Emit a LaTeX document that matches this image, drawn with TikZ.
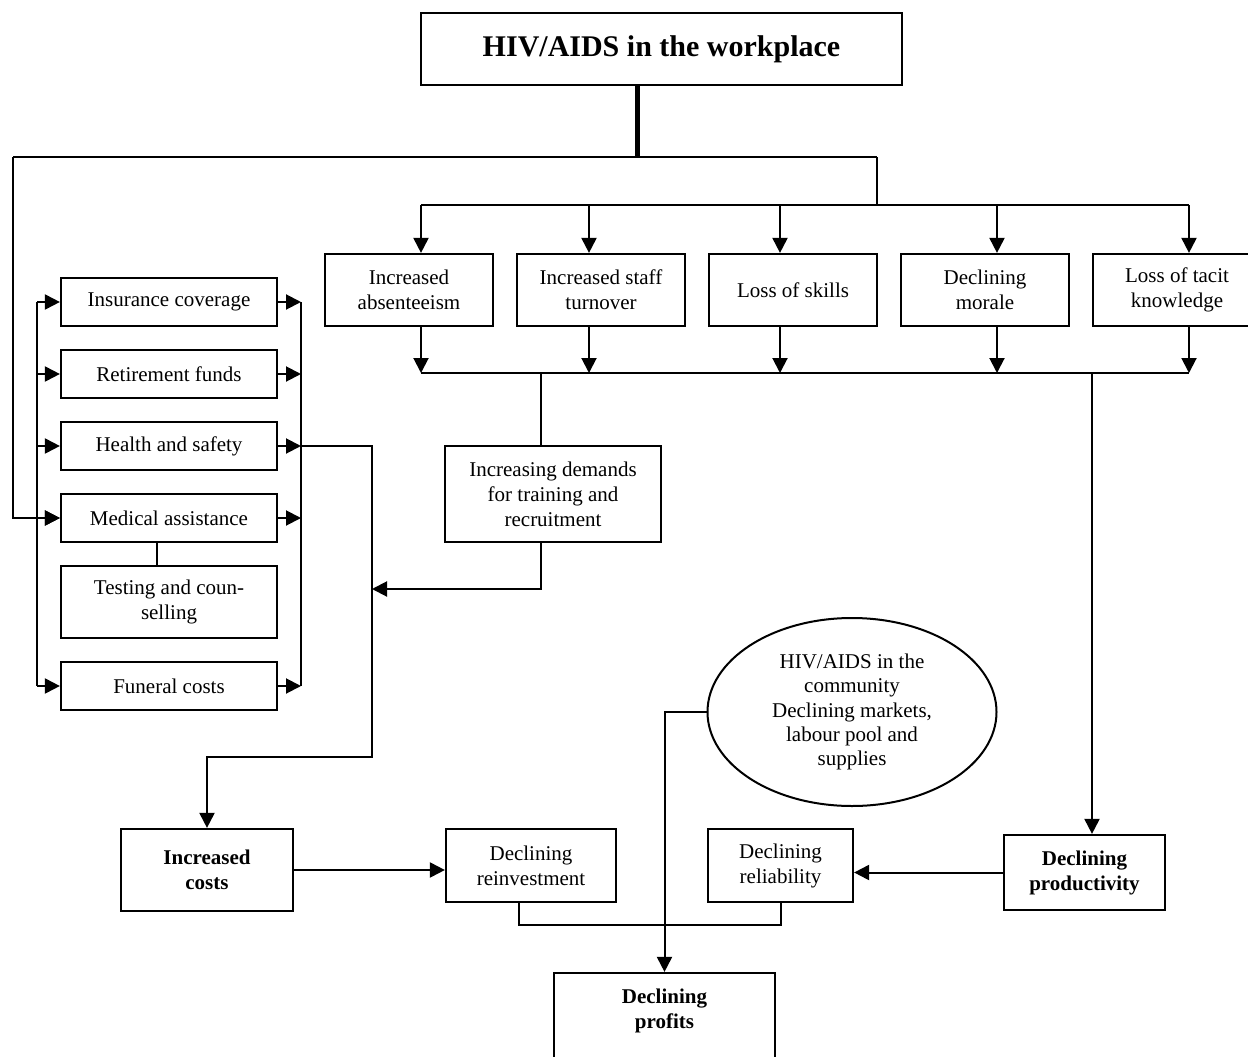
\documentclass[tikz,border=0pt]{standalone}
\usepackage{fontspec}
\setmainfont{Liberation Serif}
\usetikzlibrary{arrows.meta,shapes.geometric}
\begin{document}
\begin{tikzpicture}[x=1pt,y=-1pt,
  every node/.style={inner sep=0pt},
  bx/.style={draw, line width=2.2pt, rectangle, align=center, font=\fontsize{21}{25}\selectfont},
  bbx/.style={bx, font=\fontsize{21}{25}\selectfont\bfseries},
  ln/.style={line width=2pt},
  arr/.style={line width=2pt, -{Triangle[length=15pt,width=15pt]}},
  thickln/.style={line width=5pt}]
\useasboundingbox (0,0) rectangle (1248,1057);

% title
\node[draw, line width=2.2pt, minimum width=481pt, minimum height=72pt,
      font=\fontsize{30}{36}\selectfont\bfseries] (title) at (661.5,49) {HIV/AIDS in the workplace};

% top row
\node[bx, minimum width=168pt, minimum height=72pt] (abs) at (409,290) {Increased\\absenteeism};
\node[bx, minimum width=168pt, minimum height=72pt] (staff) at (601,290) {Increased staff\\turnover};
\node[bx, minimum width=168pt, minimum height=72pt] (skills) at (793,290) {Loss of skills};
\node[bx, minimum width=168pt, minimum height=72pt] (morale) at (985,290) {Declining\\morale};
\node[bx, minimum width=168pt, minimum height=72pt] (tacit) at (1177,290) {Loss of tacit\\knowledge};

% left column
\node[bx, minimum width=216pt, minimum height=48pt] (ins) at (169,302) {Insurance coverage};
\node[bx, minimum width=216pt, minimum height=48pt] (ret) at (169,374) {Retirement funds};
\node[bx, minimum width=216pt, minimum height=48pt] (hs) at (169,446) {Health and safety};
\node[bx, minimum width=216pt, minimum height=48pt] (med) at (169,518) {Medical assistance};
\node[bx, minimum width=216pt, minimum height=72pt] (test) at (169,602) {Testing and coun-\\selling};
\node[bx, minimum width=216pt, minimum height=48pt] (fun) at (169,686) {Funeral costs};

% middle
\node[bx, minimum width=216pt, minimum height=96pt] (dem) at (553,494) {Increasing demands\\for training and\\recruitment};
\node[draw, line width=2pt, ellipse, minimum width=289pt, minimum height=188pt, inner sep=0pt,
      align=center, font=\fontsize{21}{24.3}\selectfont] (ell) at (852,712)
      {HIV/AIDS in the\\community\\Declining markets,\\labour pool and\\supplies};

% bottom row
\node[bbx, minimum width=172pt, minimum height=82pt] (costs) at (207,870) {Increased\\costs};
\node[bx, minimum width=170pt, minimum height=73pt] (reinv) at (531,865.5) {Declining\\reinvestment};
\node[bx, minimum width=145pt, minimum height=73pt] (rel) at (780.5,865.5) {Declining\\reliability};
\node[bbx, minimum width=161pt, minimum height=75pt] (prod) at (1084.5,872.5) {Declining\\productivity};
\node[bbx, minimum width=221pt, minimum height=97pt] (prof) at (664.5,1021.5) {Declining\\profits\\ \mbox{}};

% coordinates
\coordinate (h) at (637,157);
\coordinate (L) at (13,157);
\coordinate (R) at (877,157);
\coordinate (t1) at (421,205);
\coordinate (t2) at (589,205);
\coordinate (t3) at (780,205);
\coordinate (t4) at (997,205);
\coordinate (t5) at (1189,205);
\coordinate (b1) at (421,373);
\coordinate (b2) at (589,373);
\coordinate (b3) at (780,373);
\coordinate (b4) at (997,373);
\coordinate (b5) at (1189,373);
\coordinate (d) at (541,373);
\coordinate (p) at (1092,373);
\coordinate (lb) at (37,0);
\coordinate (rb) at (301,0);
\coordinate (mt) at (157,0);
\coordinate (c1) at (372,757);
\coordinate (c3) at (372,589);
\coordinate (r1) at (519,925);

% title connectors
\draw[thickln] (h |- title.south) -- (h);
\draw[ln] (L) -- (R);
\draw[ln] (R) -- (R |- t1);
\draw[ln] (t1) -- (t5);
\foreach \t/\n in {t1/abs,t2/staff,t3/skills,t4/morale,t5/tacit}
  \draw[arr] (\t) -- (\t |- \n.north);

% bottom bus
\foreach \b/\n in {b1/abs,b2/staff,b3/skills,b4/morale,b5/tacit}
  \draw[arr] (\b |- \n.south) -- (\b);
\draw[ln] (b1) -- (b5);

% left outer line
\draw[arr] (L) |- (med.west);

% left and right buses
\draw[ln] (lb |- ins.west) -- (lb |- fun.west);
\draw[ln] (rb |- ins.east) -- (rb |- fun.east);
\foreach \n in {ins,ret,hs,med,fun}{
  \draw[arr] (lb |- \n.west) -- (\n.west);
  \draw[arr] (\n.east) -- (rb |- \n.east);
}
\draw[ln] (mt |- med.south) -- (mt |- test.north);

% to increased costs
\draw[arr] (rb |- hs.east) -| (c1) -| (costs.north);

% demands
\draw[ln] (d) -- (d |- dem.north);
\draw[arr] (d |- dem.south) |- (c3);

% productivity
\draw[arr] (p) -- (p |- prod.north);
\draw[arr] (prod.west) -- (prod.west -| rel.east);

% costs to reinvestment
\draw[arr] (costs.east) -- (costs.east -| reinv.west);

% reinvestment / reliability join
\draw[ln] (r1 |- reinv.south) -- (r1) -- (r1 -| rel.south) -- (rel.south);

% ellipse to profits
\draw[arr] (ell.west) -| (prof.north);
\end{tikzpicture}
\end{document}
